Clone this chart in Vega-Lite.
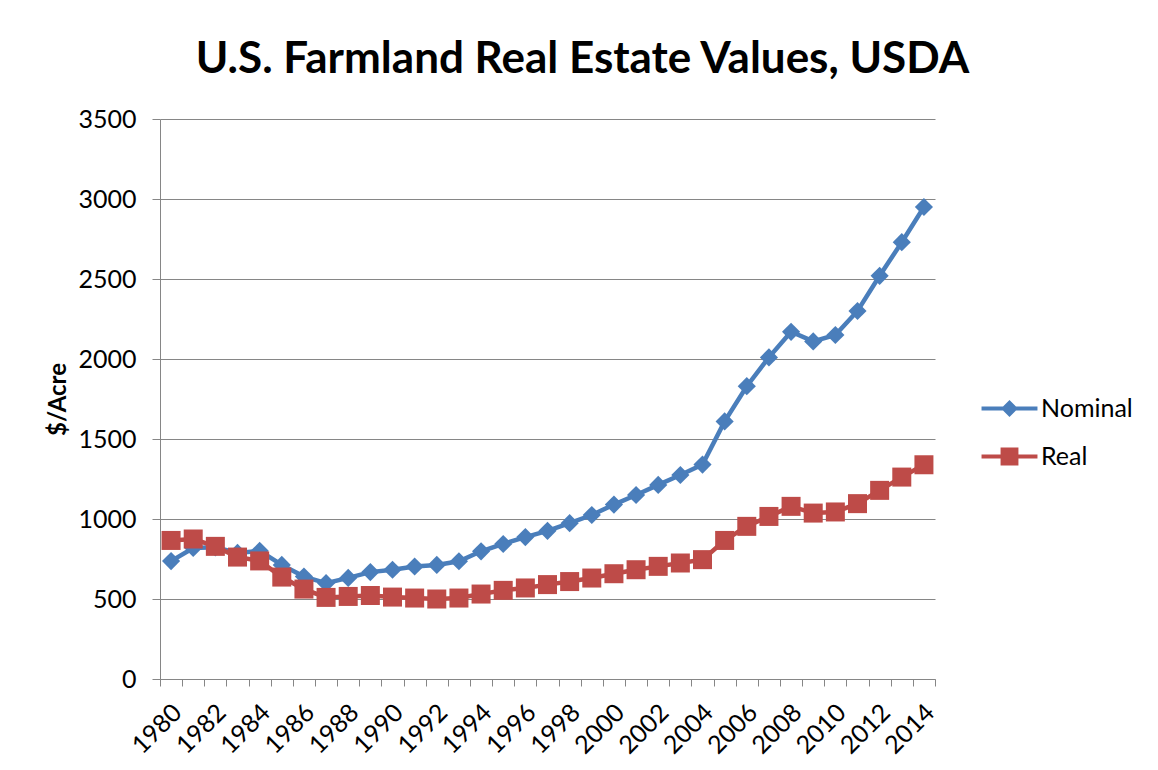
{
  "$schema": "https://vega.github.io/schema/vega-lite/v6.json",
  "width": 775,
  "height": 560,
  "autosize": {"type": "none"},
  "padding": {"left": 160, "top": 119, "right": 223, "bottom": 91},
  "background": "white",
  "title": {
    "text": "U.S. Farmland Real Estate Values, USDA",
    "anchor": "middle",
    "frame": "group",
    "baseline": "alphabetic",
    "offset": 44,
    "dy": 54,
    "dx": 35,
    "font": "Lato",
    "fontWeight": "bold",
    "fontSize": 44,
    "color": "black"
  },
  "config": {
    "view": {"stroke": null},
    "axis": {
      "labelFont": "Lato",
      "labelFontSize": 25,
      "labelColor": "black",
      "domainColor": "#868686",
      "tickColor": "#868686",
      "gridColor": "#868686",
      "domainWidth": 1,
      "tickWidth": 1,
      "gridWidth": 1
    }
  },
  "data": {
    "values": [
      {"year": "1980", "series": "Nominal", "value": 737},
      {"year": "1981", "series": "Nominal", "value": 819},
      {"year": "1982", "series": "Nominal", "value": 823},
      {"year": "1983", "series": "Nominal", "value": 788},
      {"year": "1984", "series": "Nominal", "value": 801},
      {"year": "1985", "series": "Nominal", "value": 713},
      {"year": "1986", "series": "Nominal", "value": 640},
      {"year": "1987", "series": "Nominal", "value": 599},
      {"year": "1988", "series": "Nominal", "value": 632},
      {"year": "1989", "series": "Nominal", "value": 668},
      {"year": "1990", "series": "Nominal", "value": 683},
      {"year": "1991", "series": "Nominal", "value": 703},
      {"year": "1992", "series": "Nominal", "value": 713},
      {"year": "1993", "series": "Nominal", "value": 736},
      {"year": "1994", "series": "Nominal", "value": 798},
      {"year": "1995", "series": "Nominal", "value": 844},
      {"year": "1996", "series": "Nominal", "value": 887},
      {"year": "1997", "series": "Nominal", "value": 926},
      {"year": "1998", "series": "Nominal", "value": 974},
      {"year": "1999", "series": "Nominal", "value": 1025},
      {"year": "2000", "series": "Nominal", "value": 1090},
      {"year": "2001", "series": "Nominal", "value": 1150},
      {"year": "2002", "series": "Nominal", "value": 1213},
      {"year": "2003", "series": "Nominal", "value": 1275},
      {"year": "2004", "series": "Nominal", "value": 1340},
      {"year": "2005", "series": "Nominal", "value": 1610},
      {"year": "2006", "series": "Nominal", "value": 1830},
      {"year": "2007", "series": "Nominal", "value": 2010},
      {"year": "2008", "series": "Nominal", "value": 2170},
      {"year": "2009", "series": "Nominal", "value": 2110},
      {"year": "2010", "series": "Nominal", "value": 2150},
      {"year": "2011", "series": "Nominal", "value": 2300},
      {"year": "2012", "series": "Nominal", "value": 2520},
      {"year": "2013", "series": "Nominal", "value": 2730},
      {"year": "2014", "series": "Nominal", "value": 2950},
      {"year": "1980", "series": "Real", "value": 866},
      {"year": "1981", "series": "Real", "value": 875},
      {"year": "1982", "series": "Real", "value": 829},
      {"year": "1983", "series": "Real", "value": 762},
      {"year": "1984", "series": "Real", "value": 738},
      {"year": "1985", "series": "Real", "value": 637},
      {"year": "1986", "series": "Real", "value": 562},
      {"year": "1987", "series": "Real", "value": 510},
      {"year": "1988", "series": "Real", "value": 516},
      {"year": "1989", "series": "Real", "value": 522},
      {"year": "1990", "series": "Real", "value": 512},
      {"year": "1991", "series": "Real", "value": 506},
      {"year": "1992", "series": "Real", "value": 500},
      {"year": "1993", "series": "Real", "value": 506},
      {"year": "1994", "series": "Real", "value": 531},
      {"year": "1995", "series": "Real", "value": 554},
      {"year": "1996", "series": "Real", "value": 569},
      {"year": "1997", "series": "Real", "value": 590},
      {"year": "1998", "series": "Real", "value": 609},
      {"year": "1999", "series": "Real", "value": 631},
      {"year": "2000", "series": "Real", "value": 658},
      {"year": "2001", "series": "Real", "value": 683},
      {"year": "2002", "series": "Real", "value": 704},
      {"year": "2003", "series": "Real", "value": 725},
      {"year": "2004", "series": "Real", "value": 746},
      {"year": "2005", "series": "Real", "value": 866},
      {"year": "2006", "series": "Real", "value": 954},
      {"year": "2007", "series": "Real", "value": 1016},
      {"year": "2008", "series": "Real", "value": 1079},
      {"year": "2009", "series": "Real", "value": 1037},
      {"year": "2010", "series": "Real", "value": 1044},
      {"year": "2011", "series": "Real", "value": 1096},
      {"year": "2012", "series": "Real", "value": 1179},
      {"year": "2013", "series": "Real", "value": 1262},
      {"year": "2014", "series": "Real", "value": 1339}
    ]
  },
  "encoding": {
    "x": {
      "field": "year",
      "type": "ordinal",
      "scale": {"type": "band", "paddingInner": 0, "paddingOuter": 0},
      "axis": {
        "title": null,
        "tickBand": "extent",
        "grid": false,
        "tickSize": 7,
        "labelAngle": -45,
        "labelAlign": "right",
        "labelBaseline": "middle",
        "labelPadding": 22,
        "labelOffset": 6,
        "labelExpr": "toNumber(datum.value) % 2 === 0 ? datum.value : ''"
      }
    },
    "y": {
      "field": "value",
      "type": "quantitative",
      "scale": {"domain": [0, 3500], "nice": false, "zero": true},
      "axis": {
        "values": [0, 500, 1000, 1500, 2000, 2500, 3000, 3500],
        "format": "d",
        "grid": true,
        "tickSize": 8,
        "labelPadding": 16,
        "title": "$/Acre",
        "titleFont": "Lato",
        "titleFontSize": 24,
        "titleFontWeight": "bold",
        "titleColor": "black",
        "titleAngle": -90,
        "titleX": -102,
        "titleY": 280,
        "titleAlign": "center",
        "titleBaseline": "middle"
      }
    },
    "color": {
      "field": "series",
      "type": "nominal",
      "scale": {"domain": ["Nominal", "Real"], "range": ["#4A7EBB", "#BE4B48"]},
      "legend": {
        "title": null,
        "orient": "none",
        "legendX": 826,
        "legendY": 266,
        "padding": 0,
        "rowPadding": 11,
        "symbolSize": 2209,
        "symbolType": "M-1.19,-0.085L1.19,-0.085L1.19,0.085L-1.19,0.085Z",
        "labelOffset": 8,
        "labelFont": "Lato",
        "labelFontSize": 25,
        "labelColor": "black",
        "encode": {
          "symbols": {
            "update": {
              "shape": {"signal": "datum.value === 'Nominal' ? 'M-1.19,-0.085L1.19,-0.085L1.19,0.085L-1.19,0.085Z M0,-0.36L0.36,0L0,0.36L-0.36,0Z' : 'M-1.19,-0.085L1.19,-0.085L1.19,0.085L-1.19,0.085Z M-0.38,-0.38L0.38,-0.38L0.38,0.38L-0.38,0.38Z'"},
              "size": {"value": 2209},
              "fill": {"signal": "datum.value === 'Nominal' ? '#4A7EBB' : '#BE4B48'"},
              "stroke": {"value": "transparent"},
              "strokeWidth": {"value": 0},
              "opacity": {"value": 1},
              "fillOpacity": {"value": 1}
            }
          }
        }
      }
    }
  },
  "layer": [
    {
      "mark": {"type": "line", "strokeWidth": 4.5},
      "encoding": {}
    },
    {
      "transform": [{"filter": "datum.series === 'Nominal'"}],
      "mark": {"type": "point", "filled": true, "opacity": 1, "shape": "diamond", "size": 330},
      "encoding": {}
    },
    {
      "transform": [{"filter": "datum.series === 'Real'"}],
      "mark": {"type": "point", "filled": true, "opacity": 1, "shape": "square", "size": 361},
      "encoding": {}
    }
  ]
}
